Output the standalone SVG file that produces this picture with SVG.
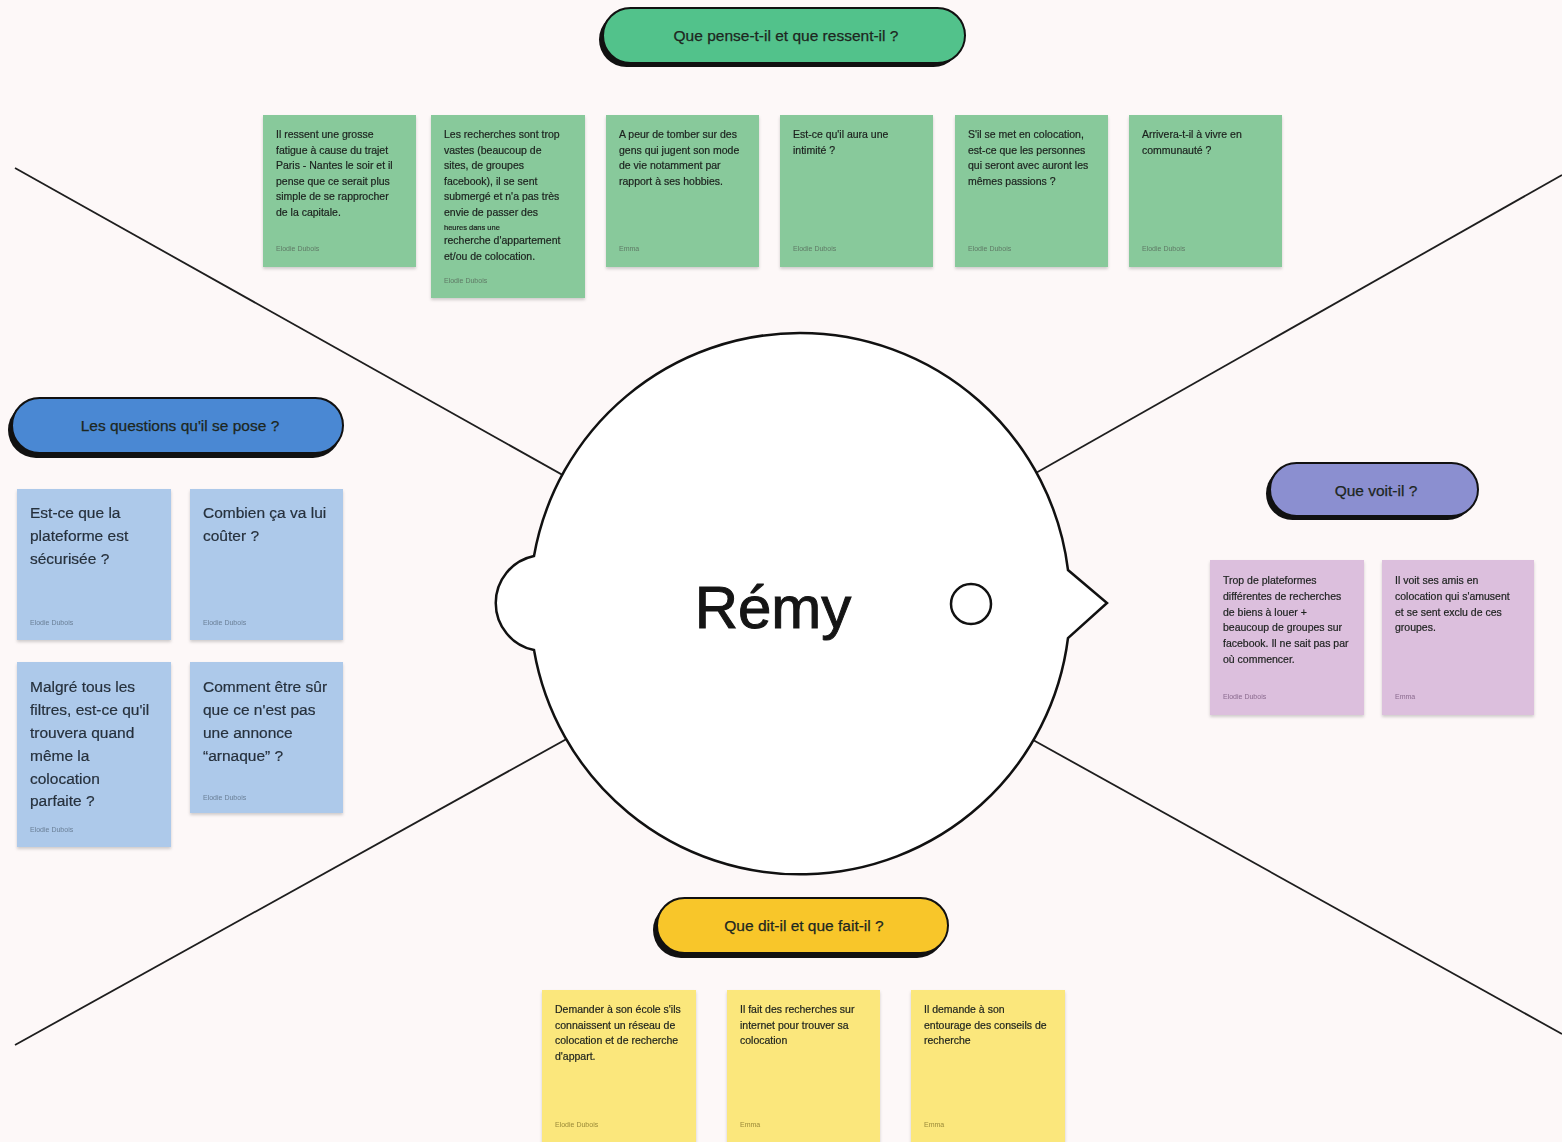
<svg xmlns="http://www.w3.org/2000/svg" width="1562" height="1142" viewBox="0 0 1562 1142">
  <defs>
    <filter id="noteShadow" x="-10%" y="-10%" width="120%" height="125%">
      <feDropShadow dx="0" dy="2" stdDeviation="1.5" flood-color="#000" flood-opacity="0.18"/>
    </filter>
  </defs>
  <style>
    .axis { stroke: #1e1e1e; stroke-width: 1.8; fill: none; }
    .pill-shadow { fill: #111; }
    .pill { stroke: #111; stroke-width: 2; }
    .pill-text { font-family: "Liberation Sans", Arial, sans-serif; font-size: 15.5px; fill: #1d2620; stroke: #1d2620; stroke-width: 0.25; text-anchor: middle; }
    .note { filter: url(#noteShadow); }
    .green { fill: #88c99b; }
    .purple { fill: #dcbfdd; }
    .yellow { fill: #fbe77b; }
    .blue { fill: #adc9ea; }
    .small { font-family: "Liberation Sans", Arial, sans-serif; font-size: 10.5px; fill: #1c211e; stroke: #1c211e; stroke-width: 0.2; }
    .big { font-family: "Liberation Sans", Arial, sans-serif; font-size: 15.5px; fill: #26303c; stroke: #26303c; stroke-width: 0.2; }
    .author { font-family: "Liberation Sans", Arial, sans-serif; font-size: 7px; fill: #5f7a66; }
    .author-p { fill: #8a6a8e; }
    .author-y { fill: #9a8a3a; }
    .author-b { fill: #6a7f96; }
    .head { fill: #fff; stroke: #111; stroke-width: 2.5; }
    .name { font-family: "Liberation Sans", Arial, sans-serif; font-size: 60px; fill: #151515; stroke: #151515; stroke-width: 1; text-anchor: middle; }
  </style>

  <rect width="1562" height="1142" fill="#fdf8f8"/>

  <!-- quadrant axes, drawn under the head -->
  <g id="connectors">
    <line class="axis" x1="15" y1="168" x2="700" y2="552"/>
    <line class="axis" x1="1562" y1="175" x2="900" y2="550"/>
    <line class="axis" x1="15" y1="1045" x2="700" y2="665"/>
    <line class="axis" x1="1562" y1="1034" x2="900" y2="666"/>
  </g>

  <!-- head with ear and nose -->
  <g id="head">
    <path class="head" d="M800 333 A270 270 0 0 1 1068 570 L1107 603 L1068 638 A270 270 0 0 1 534 650 A48 48 0 0 1 534 556 A270 270 0 0 1 800 333 Z"/>
    <circle class="head" cx="971" cy="604" r="20"/>
    <text class="name" x="773" y="628">Rémy</text>
  </g>

  <!-- section headers -->
  <g id="header-thinks">
    <rect class="pill-shadow" x="599" y="12" width="362" height="55" rx="27.5"/>
    <rect class="pill" x="603" y="8" width="362" height="55" rx="27.5" fill="#52c28b"/>
    <text class="pill-text" x="786" y="41">Que pense-t-il et que ressent-il ?</text>
  </g>
  <g id="header-questions">
    <rect class="pill-shadow" x="8" y="402" width="333" height="56" rx="28"/>
    <rect class="pill" x="12" y="398" width="331" height="55" rx="27.5" fill="#4a88d3"/>
    <text class="pill-text" x="180" y="431">Les questions qu'il se pose ?</text>
  </g>
  <g id="header-sees">
    <rect class="pill-shadow" x="1266" y="467" width="208" height="53" rx="26.5"/>
    <rect class="pill" x="1270" y="463" width="208" height="53" rx="26.5" fill="#8b8fd0"/>
    <text class="pill-text" x="1376" y="496">Que voit-il ?</text>
  </g>
  <g id="header-does">
    <rect class="pill-shadow" x="653" y="902" width="292" height="56" rx="28"/>
    <rect class="pill" x="657" y="898" width="291" height="55" rx="27.5" fill="#f8c62a"/>
    <text class="pill-text" x="804" y="931">Que dit-il et que fait-il ?</text>
  </g>

  <!-- thinks & feels -->
  <g id="note-g1" class="note">
    <rect class="green" x="263" y="115" width="153" height="152"/>
    <text class="small" x="276" y="138">
      <tspan x="276" dy="0">Il ressent une grosse</tspan>
      <tspan x="276" dy="15.5">fatigue à cause du trajet</tspan>
      <tspan x="276" dy="15.5">Paris - Nantes le soir et il</tspan>
      <tspan x="276" dy="15.5">pense que ce serait plus</tspan>
      <tspan x="276" dy="15.5">simple de se rapprocher</tspan>
      <tspan x="276" dy="15.5">de la capitale.</tspan>
    </text>
    <text class="author" x="276" y="251">Elodie Dubois</text>
  </g>
  <g id="note-g2" class="note">
    <rect class="green" x="431" y="115" width="154" height="183"/>
    <text class="small" x="444" y="138">
      <tspan x="444" dy="0">Les recherches sont trop</tspan>
      <tspan x="444" dy="15.5">vastes (beaucoup de</tspan>
      <tspan x="444" dy="15.5">sites, de groupes</tspan>
      <tspan x="444" dy="15.5">facebook), il se sent</tspan>
      <tspan x="444" dy="15.5">submergé et n'a pas très</tspan>
      <tspan x="444" dy="15.5">envie de passer des</tspan>
      <tspan x="444" dy="14" font-size="7.5px">heures dans une</tspan>
      <tspan x="444" dy="14.5">recherche d'appartement</tspan>
      <tspan x="444" dy="15.5">et/ou de colocation.</tspan>
    </text>
    <text class="author" x="444" y="283">Elodie Dubois</text>
  </g>
  <g id="note-g3" class="note">
    <rect class="green" x="606" y="115" width="153" height="152"/>
    <text class="small" x="619" y="138">
      <tspan x="619" dy="0">A peur de tomber sur des</tspan>
      <tspan x="619" dy="15.5">gens qui jugent son mode</tspan>
      <tspan x="619" dy="15.5">de vie notamment par</tspan>
      <tspan x="619" dy="15.5">rapport à ses hobbies.</tspan>
    </text>
    <text class="author" x="619" y="251">Emma</text>
  </g>
  <g id="note-g4" class="note">
    <rect class="green" x="780" y="115" width="153" height="152"/>
    <text class="small" x="793" y="138">
      <tspan x="793" dy="0">Est-ce qu'il aura une</tspan>
      <tspan x="793" dy="15.5">intimité ?</tspan>
    </text>
    <text class="author" x="793" y="251">Elodie Dubois</text>
  </g>
  <g id="note-g5" class="note">
    <rect class="green" x="955" y="115" width="153" height="152"/>
    <text class="small" x="968" y="138">
      <tspan x="968" dy="0">S'il se met en colocation,</tspan>
      <tspan x="968" dy="15.5">est-ce que les personnes</tspan>
      <tspan x="968" dy="15.5">qui seront avec auront les</tspan>
      <tspan x="968" dy="15.5">mêmes passions ?</tspan>
    </text>
    <text class="author" x="968" y="251">Elodie Dubois</text>
  </g>
  <g id="note-g6" class="note">
    <rect class="green" x="1129" y="115" width="153" height="152"/>
    <text class="small" x="1142" y="138">
      <tspan x="1142" dy="0">Arrivera-t-il à vivre en</tspan>
      <tspan x="1142" dy="15.5">communauté ?</tspan>
    </text>
    <text class="author" x="1142" y="251">Elodie Dubois</text>
  </g>

  <!-- questions -->
  <g id="note-b1" class="note">
    <rect class="blue" x="17" y="489" width="154" height="151"/>
    <text class="big" x="30" y="518">
      <tspan x="30" dy="0">Est-ce que la</tspan>
      <tspan x="30" dy="23">plateforme est</tspan>
      <tspan x="30" dy="23">sécurisée ?</tspan>
    </text>
    <text class="author author-b" x="30" y="625">Elodie Dubois</text>
  </g>
  <g id="note-b2" class="note">
    <rect class="blue" x="190" y="489" width="153" height="151"/>
    <text class="big" x="203" y="518">
      <tspan x="203" dy="0">Combien ça va lui</tspan>
      <tspan x="203" dy="23">coûter ?</tspan>
    </text>
    <text class="author author-b" x="203" y="625">Elodie Dubois</text>
  </g>
  <g id="note-b3" class="note">
    <rect class="blue" x="17" y="662" width="154" height="185"/>
    <text class="big" x="30" y="692">
      <tspan x="30" dy="0">Malgré tous les</tspan>
      <tspan x="30" dy="23">filtres, est-ce qu'il</tspan>
      <tspan x="30" dy="23">trouvera quand</tspan>
      <tspan x="30" dy="23">même la</tspan>
      <tspan x="30" dy="22.5">colocation</tspan>
      <tspan x="30" dy="22.5">parfaite ?</tspan>
    </text>
    <text class="author author-b" x="30" y="832">Elodie Dubois</text>
  </g>
  <g id="note-b4" class="note">
    <rect class="blue" x="190" y="662" width="153" height="151"/>
    <text class="big" x="203" y="692">
      <tspan x="203" dy="0">Comment être sûr</tspan>
      <tspan x="203" dy="23">que ce n'est pas</tspan>
      <tspan x="203" dy="23">une annonce</tspan>
      <tspan x="203" dy="23">“arnaque” ?</tspan>
    </text>
    <text class="author author-b" x="203" y="800">Elodie Dubois</text>
  </g>

  <!-- sees -->
  <g id="note-p1" class="note">
    <rect class="purple" x="1210" y="560" width="154" height="155"/>
    <text class="small" x="1223" y="584">
      <tspan x="1223" dy="0">Trop de plateformes</tspan>
      <tspan x="1223" dy="15.8">différentes de recherches</tspan>
      <tspan x="1223" dy="15.8">de biens à louer +</tspan>
      <tspan x="1223" dy="15.8">beaucoup de groupes sur</tspan>
      <tspan x="1223" dy="15.8">facebook. Il ne sait pas par</tspan>
      <tspan x="1223" dy="15.8">où commencer.</tspan>
    </text>
    <text class="author author-p" x="1223" y="699">Elodie Dubois</text>
  </g>
  <g id="note-p2" class="note">
    <rect class="purple" x="1382" y="560" width="152" height="155"/>
    <text class="small" x="1395" y="584">
      <tspan x="1395" dy="0">Il voit ses amis en</tspan>
      <tspan x="1395" dy="15.8">colocation qui s'amusent</tspan>
      <tspan x="1395" dy="15.8">et se sent exclu de ces</tspan>
      <tspan x="1395" dy="15.8">groupes.</tspan>
    </text>
    <text class="author author-p" x="1395" y="699">Emma</text>
  </g>

  <!-- says & does -->
  <g id="note-y1" class="note">
    <rect class="yellow" x="542" y="990" width="154" height="160"/>
    <text class="small" x="555" y="1013">
      <tspan x="555" dy="0">Demander à son école s'ils</tspan>
      <tspan x="555" dy="15.5">connaissent un réseau de</tspan>
      <tspan x="555" dy="15.5">colocation et de recherche</tspan>
      <tspan x="555" dy="15.5">d'appart.</tspan>
    </text>
    <text class="author author-y" x="555" y="1127">Elodie Dubois</text>
  </g>
  <g id="note-y2" class="note">
    <rect class="yellow" x="727" y="990" width="153" height="160"/>
    <text class="small" x="740" y="1013">
      <tspan x="740" dy="0">Il fait des recherches sur</tspan>
      <tspan x="740" dy="15.5">internet pour trouver sa</tspan>
      <tspan x="740" dy="15.5">colocation</tspan>
    </text>
    <text class="author author-y" x="740" y="1127">Emma</text>
  </g>
  <g id="note-y3" class="note">
    <rect class="yellow" x="911" y="990" width="154" height="160"/>
    <text class="small" x="924" y="1013">
      <tspan x="924" dy="0">Il demande à son</tspan>
      <tspan x="924" dy="15.5">entourage des conseils de</tspan>
      <tspan x="924" dy="15.5">recherche</tspan>
    </text>
    <text class="author author-y" x="924" y="1127">Emma</text>
  </g>
</svg>
